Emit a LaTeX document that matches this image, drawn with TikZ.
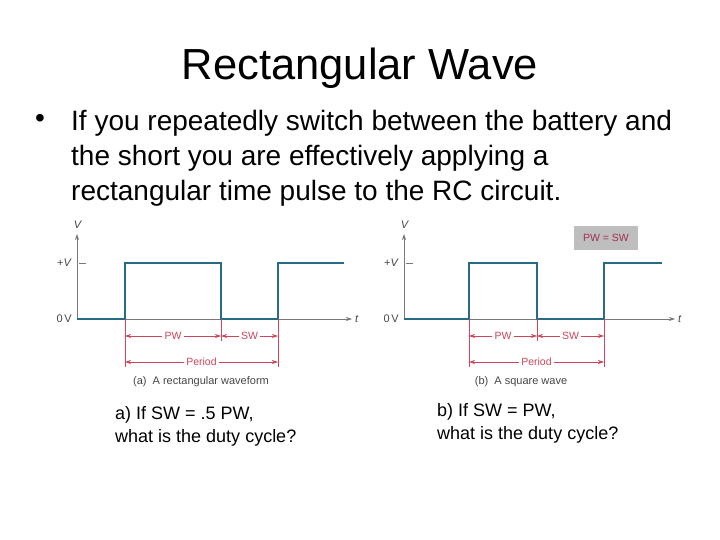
\documentclass[tikz,border=0pt]{standalone}
\usepackage{fontspec}
\setmainfont{Liberation Sans}
\usetikzlibrary{arrows.meta}
\definecolor{wave}{RGB}{38,108,132}
\definecolor{dim}{RGB}{206,70,92}
\definecolor{axisgray}{RGB}{120,120,120}
\definecolor{labelgray}{RGB}{70,70,70}
\definecolor{boxgray}{RGB}{190,190,190}
\definecolor{boxtext}{RGB}{160,48,80}
\begin{document}
\begin{tikzpicture}[>={Stealth[length=6pt,width=4pt]}, x=1pt, y=-1pt,
    waveline/.style={draw=wave, line width=1.8pt},
    axisline/.style={draw=axisgray, line width=0.7pt},
    dimline/.style={draw=dim, line width=0.7pt},
    dimlabel/.style={fill=white, text=dim, font=\fontsize{10.5}{12}\selectfont, inner sep=2.5pt},
    axlabel/.style={text=labelgray, font=\fontsize{11}{12}\selectfont, inner sep=0pt}]
\useasboundingbox (0,0) rectangle (720,540);
\node (title) at (360,68) {\fontsize{43.5}{50}\selectfont Rectangular Wave};
\node (dot) at (40,121) {\fontsize{28}{35}\selectfont\textbullet};
\node[anchor=north west, inner sep=0pt, align=left, font=\fontsize{28}{35}\selectfont] (bullet) at (71,110)
  {If you repeatedly switch between the battery and\\the short you are effectively applying a\\rectangular time pulse to the RC circuit.};
% the two waveforms
\foreach \p/\a/\b/\c/\d/\e/\f in {a/77/125/221/278/344/352, b/404/469/537/604/662/675} {
  \coordinate (\p-o) at (\a,319);
  \coordinate (\p-top) at (\a,234);
  \coordinate (\p-end) at (\f,319);
  \draw[axisline, ->] (\p-o) -- (\p-top);
  \draw[axisline, ->] (\p-o) -- (\p-end);
  \draw[axisline] (\a+2,263) -- (\a+9,263);
  \node[axlabel, anchor=south] (\p-v) at (\a+1,229) {\textit{V}};
  \node[axlabel, anchor=east] (\p-pv) at (\a-5,263) {+\textit{V}};
  \node[axlabel, anchor=east] (\p-zv) at (\a-5,319) {0\,V};
  \node[axlabel, anchor=west] (\p-t) at (\f+3,319) {\textit{t}};
  \draw[waveline] (\p-o) -- (\b,319) -- (\b,263) -- (\c,263) -- (\c,319) -- (\d,319) -- (\d,263) -- (\e,263);
  \coordinate (\p-r1) at (\b,336);
  \coordinate (\p-f1) at (\c,336);
  \coordinate (\p-r2) at (\d,336);
  \coordinate (\p-pr) at (\b,362);
  \coordinate (\p-pe) at (\d,362);
  \draw[dimline] (\b,319) -- (\b,367);
  \draw[dimline] (\c,319) -- (\c,341);
  \draw[dimline] (\d,319) -- (\d,367);
  \draw[dimline, <->] (\p-r1) -- node[dimlabel] {PW} (\p-f1);
  \draw[dimline, <->] (\p-f1) -- node[dimlabel] {SW} (\p-r2);
  \draw[dimline, <->] (\p-pr) -- node[dimlabel] {Period} (\p-pe);
}
\node[axlabel] (a-cap) at (201,382) {(a)\ \ A rectangular waveform};
\node[axlabel] (b-cap) at (521,382) {(b)\ \ A square wave};
\node[fill=boxgray, text=boxtext, font=\fontsize{10.5}{12}\selectfont, minimum width=64pt, minimum height=24pt] (same) at (606,238) {PW = SW};
% questions
\node[anchor=north west, inner sep=0pt, align=left, font=\fontsize{18}{23}\selectfont] (qa) at (115,406)
  {a) If SW = .5 PW,\\what is the duty cycle?};
\node[anchor=north west, inner sep=0pt, align=left, font=\fontsize{18}{23}\selectfont] (qb) at (437,403)
  {b) If SW = PW,\\what is the duty cycle?};
\end{tikzpicture}
\end{document}
